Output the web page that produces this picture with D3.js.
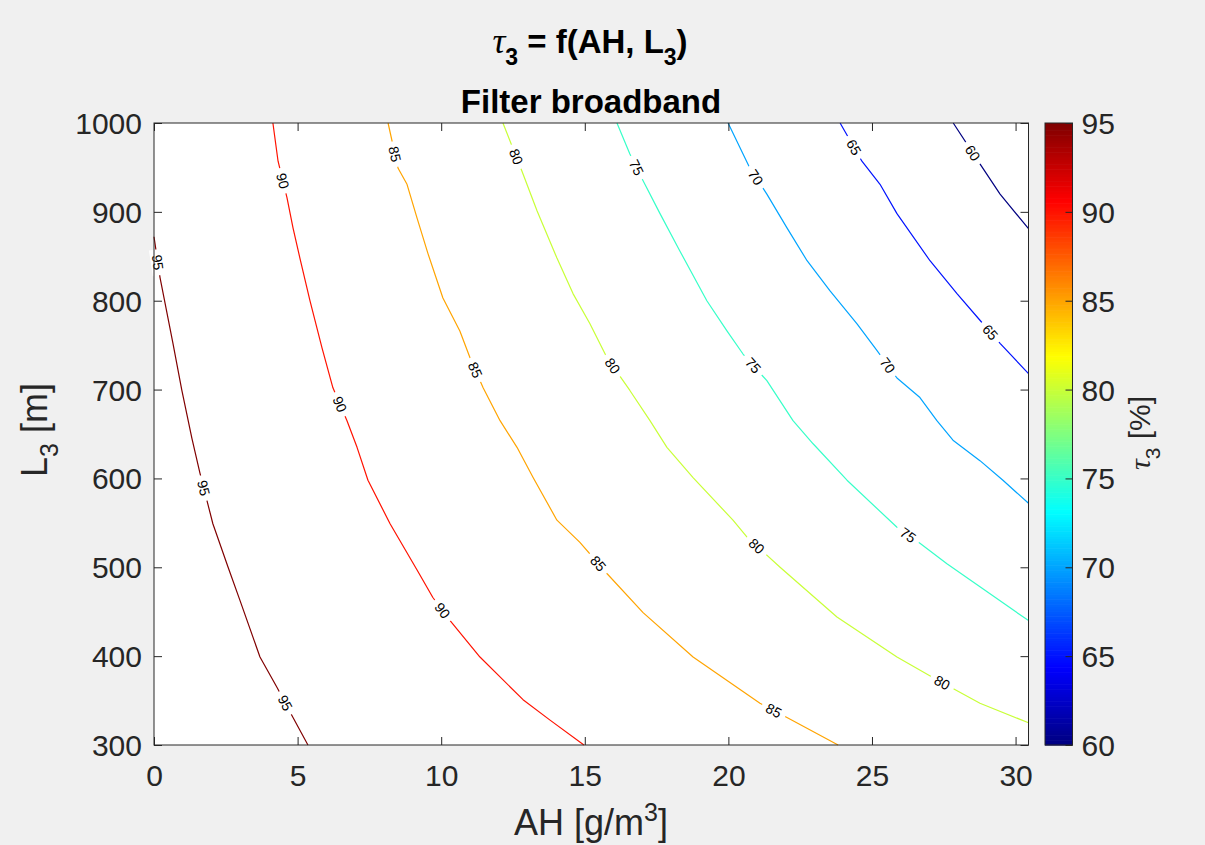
<!DOCTYPE html>
<html><head><meta charset="utf-8">
<script src="https://cdn.jsdelivr.net/npm/d3@7"></script>
<style>
body{margin:0;background:#f0f0f0;}
svg{display:block;font-family:"Liberation Sans",Arial,Helvetica,sans-serif;}
</style>
</head><body>
<svg id="chart" width="1205" height="845"></svg>
<script>
// ---------------- data ----------------
const xTicks = [0, 5, 10, 15, 20, 25, 30];
const yTicks = [300, 400, 500, 600, 700, 800, 900, 1000];
const cbTicks = [60, 65, 70, 75, 80, 85, 90, 95];
const levels = [95, 90, 85, 80, 75, 70, 65, 60];

// contour lines: [AH, L3]
const c95 = [[0,872],[0.21,826],[0.66,752],[0.97,699],[1.32,645],[1.60,606],[2.05,549],[2.58,500],[2.99,463],[3.69,399],[4.28,365],[4.84,331],[5.36,300]];
const c90 = [[4.14,1000],[4.32,957],[4.63,916],[4.84,882],[5.08,848],[5.43,800],[5.85,747],[6.23,702],[6.72,665],[7.07,635],[7.45,598],[8.22,549],[9.16,497],[9.71,466],[10.31,440],[11.35,399],[12.85,351],[13.79,328],[14.97,300]];
const c85 = [[8.15,1000],[8.50,949],[8.81,931],[9.16,893],[9.54,853],[10.06,803],[10.65,766],[11.00,736],[11.46,702],[12.05,665],[12.64,635],[13.20,601],[14.03,553],[14.83,528],[15.77,493],[17.03,449],[18.77,399],[21.10,347],[22.04,331],[23.82,300]];
const c80 = [[12.15,1000],[12.81,946],[13.34,901],[14.03,848],[14.59,808],[15.18,774],[15.77,736],[16.57,699],[17.27,665],[17.86,635],[18.77,601],[20.16,553],[20.65,534],[21.80,500],[23.78,444],[25.87,399],[27.12,376],[28.76,347],[30.45,325]];
const c75 = [[16.12,1000],[16.57,965],[17.03,935],[17.62,898],[18.31,856],[19.25,800],[19.95,766],[20.51,740],[21.34,710],[22.25,665],[22.95,639],[24.13,598],[25.87,545],[26.67,527],[27.61,504],[28.76,478],[30.45,440]];
const c70 = [[19.99,1000],[20.75,949],[21.34,920],[22.04,882],[22.74,845],[23.54,811],[24.48,774],[25.17,744],[25.87,713],[26.67,691],[27.26,665],[27.82,643],[28.76,620],[29.56,598],[30.45,572]];
const c65 = [[23.89,1000],[24.65,957],[25.28,931],[25.87,898],[27.02,845],[27.96,808],[28.76,778],[29.46,752],[30.45,718]];
const c60 = [[27.83,1000],[28.76,954],[29.46,920],[30.45,881]];

// label anchor positions: [AH, L3]
const lab95 = [[0.10,843],[1.71,589],[4.49,346]];
const lab90 = [[4.49,935],[6.44,683],[10.03,451]];
const lab85 = [[8.39,965],[11.11,721],[15.42,503],[21.55,337]];
const lab80 = [[12.53,961],[15.98,727],[20.93,522],[27.44,370]];
const lab75 = [[16.75,949],[20.82,726],[26.25,536]];
const lab70 = [[20.96,939],[25.49,726]];
const lab65 = [[24.34,972],[29.07,763]];
const lab60 = [[28.45,965]];

const lines = {95:c95, 90:c90, 85:c85, 80:c80, 75:c75, 70:c70, 65:c65, 60:c60};
const labs  = {95:lab95, 90:lab90, 85:lab85, 80:lab80, 75:lab75, 70:lab70, 65:lab65, 60:lab60};

// ---------------- layout ----------------
const W = 1205, H = 845;
const L = 154, R = 1028.5, T = 123, B = 745;
const cbL = 1045, cbR = 1072.5;
const axisColor = "#262626";

function jet(t){
  const c = v => Math.max(0, Math.min(1, v));
  const r = c(1.5 - Math.abs(4*t - 3));
  const g = c(1.5 - Math.abs(4*t - 2));
  const b = c(1.5 - Math.abs(4*t - 1));
  return d3.rgb(r*255, g*255, b*255).toString();
}

const svg = d3.select("#chart");
svg.append("rect").attr("width", W).attr("height", H).attr("fill", "#f0f0f0");

const x = d3.scaleLinear().domain([0, 30.45]).range([L, R]);
const y = d3.scaleLinear().domain([300, 1000]).range([B, T]);
const color = d3.scaleSequential(jet).domain([60, 95]);
const cy = d3.scaleLinear().domain([60, 95]).range([B, T]);

// plot background
svg.append("rect").attr("x", L).attr("y", T).attr("width", R - L).attr("height", B - T).attr("fill", "#fff");

const g = svg.append("g");
const lineGen = d3.line().x(d => x(d[0])).y(d => y(d[1]));
levels.forEach(lv => {
  g.append("path").datum(lines[lv]).attr("d", lineGen)
    .attr("fill", "none").attr("stroke", color(lv)).attr("stroke-width", 1.2)
    .attr("stroke-linejoin", "round");
});

// contour labels
const labG = svg.append("g");
levels.forEach(lv => {
  const pts = lines[lv].map(d => [x(d[0]), y(d[1])]);
  labs[lv].forEach(p => {
    const px = x(p[0]), py = y(p[1]);
    let best = null;
    for (let i = 0; i < pts.length - 1; i++) {
      const [x1, y1] = pts[i], [x2, y2] = pts[i+1];
      const dx = x2 - x1, dy = y2 - y1;
      let t = ((px - x1)*dx + (py - y1)*dy) / (dx*dx + dy*dy);
      t = Math.max(0, Math.min(1, t));
      const qx = x1 + t*dx, qy = y1 + t*dy;
      const dist = (qx - px)**2 + (qy - py)**2;
      if (!best || dist < best.dist) best = {dist, qx, qy, ang: Math.atan2(dy, dx)*180/Math.PI};
    }
    let a = best.ang;
    if (a > 90) a -= 180;
    if (a <= -90) a += 180;
    const gg = labG.append("g").attr("transform", `translate(${best.qx},${best.qy}) rotate(${a})`);
    gg.append("rect").attr("x", -13).attr("y", -7).attr("width", 26).attr("height", 14).attr("fill", "#fff");
    gg.append("text").attr("text-anchor", "middle").attr("dy", "0.36em")
      .attr("font-size", 14).attr("fill", "#000").text(String(lv));
  });
});

// axes box
svg.append("rect").attr("x", L).attr("y", T).attr("width", R - L).attr("height", B - T)
  .attr("fill", "none").attr("stroke", axisColor).attr("stroke-width", 1);

function styleAxis(sel){
  sel.select(".domain").remove();
  sel.selectAll(".tick line").attr("stroke", axisColor);
  sel.selectAll(".tick text").attr("fill", axisColor).attr("font-size", 30)
     .attr("font-family", '"Liberation Sans",Arial,sans-serif');
}
svg.append("g").attr("transform", `translate(0,${B})`)
  .call(d3.axisBottom(x).tickValues(xTicks).tickSize(-8).tickPadding(20).tickFormat(d3.format("d")))
  .call(styleAxis);
svg.append("g").attr("transform", `translate(0,${T})`)
  .call(d3.axisTop(x).tickValues(xTicks).tickSize(-8).tickFormat(""))
  .call(styleAxis);
svg.append("g").attr("transform", `translate(${L},0)`)
  .call(d3.axisLeft(y).tickValues(yTicks).tickSize(-8).tickPadding(12).tickFormat(d3.format("d")))
  .call(styleAxis)
  .selectAll(".tick text").attr("dy", "0.35em");
svg.append("g").attr("transform", `translate(${R},0)`)
  .call(d3.axisRight(y).tickValues(yTicks).tickSize(-8).tickFormat(""))
  .call(styleAxis);

// colorbar
const cbSteps = d3.range(0, 256);
const cbG = svg.append("g");
cbG.selectAll("rect").data(cbSteps).join("rect")
  .attr("x", cbL).attr("width", cbR - cbL)
  .attr("y", i => cy(60 + 35*(i+1)/256))
  .attr("height", i => cy(60 + 35*i/256) - cy(60 + 35*(i+1)/256) + 0.6)
  .attr("fill", i => color(60 + 35*(i+0.5)/256));
svg.append("rect").attr("x", cbL).attr("y", T).attr("width", cbR - cbL).attr("height", B - T)
  .attr("fill", "none").attr("stroke", axisColor).attr("stroke-width", 1);
svg.append("g").attr("transform", `translate(${cbR},0)`)
  .call(d3.axisRight(cy).tickValues(cbTicks).tickSize(-7).tickPadding(9).tickFormat(d3.format("d")))
  .call(styleAxis)
  .selectAll(".tick text").attr("font-size", 30).attr("dy", "0.35em");

// titles
const t1 = svg.append("text").attr("x", 590).attr("y", 53).attr("text-anchor", "middle")
  .attr("font-size", 33).attr("font-weight", "bold").attr("fill", "#000");
t1.append("tspan").attr("font-family", '"Liberation Serif",serif').attr("font-style", "italic").attr("font-weight", "normal").attr("font-size", 36).text("τ");
t1.append("tspan").attr("font-size", 23).attr("dy", 12).text("3");
t1.append("tspan").attr("dy", -12).text(" = f(AH, L");
t1.append("tspan").attr("font-size", 23).attr("dy", 12).text("3");
t1.append("tspan").attr("dy", -12).text(")");

svg.append("text").attr("x", 591).attr("y", 113).attr("text-anchor", "middle")
  .attr("font-size", 33).attr("font-weight", "bold").attr("fill", "#000").text("Filter broadband");

// x label
const xl = svg.append("text").attr("x", 591).attr("y", 835).attr("text-anchor", "middle")
  .attr("font-size", 36).attr("fill", axisColor);
xl.append("tspan").text("AH [g/m");
xl.append("tspan").attr("font-size", 25).attr("dy", -14).text("3");
xl.append("tspan").attr("dy", 14).text("]");

// y label
const yl = svg.append("text").attr("transform", `translate(47,430) rotate(-90)`).attr("text-anchor", "middle")
  .attr("font-size", 36).attr("fill", axisColor);
yl.append("tspan").text("L");
yl.append("tspan").attr("font-size", 25).attr("dy", 11).text("3");
yl.append("tspan").attr("dy", -11).text(" [m]");

// colorbar label
const cl = svg.append("text").attr("transform", `translate(1150,433) rotate(-90)`).attr("text-anchor", "middle")
  .attr("font-size", 30).attr("fill", axisColor);
cl.append("tspan").attr("font-family", '"Liberation Serif",serif').attr("font-style", "italic").text("τ");
cl.append("tspan").attr("font-size", 21).attr("dy", 10).text("3");
cl.append("tspan").attr("dy", -10).text(" [%]");
</script>
</body></html>
